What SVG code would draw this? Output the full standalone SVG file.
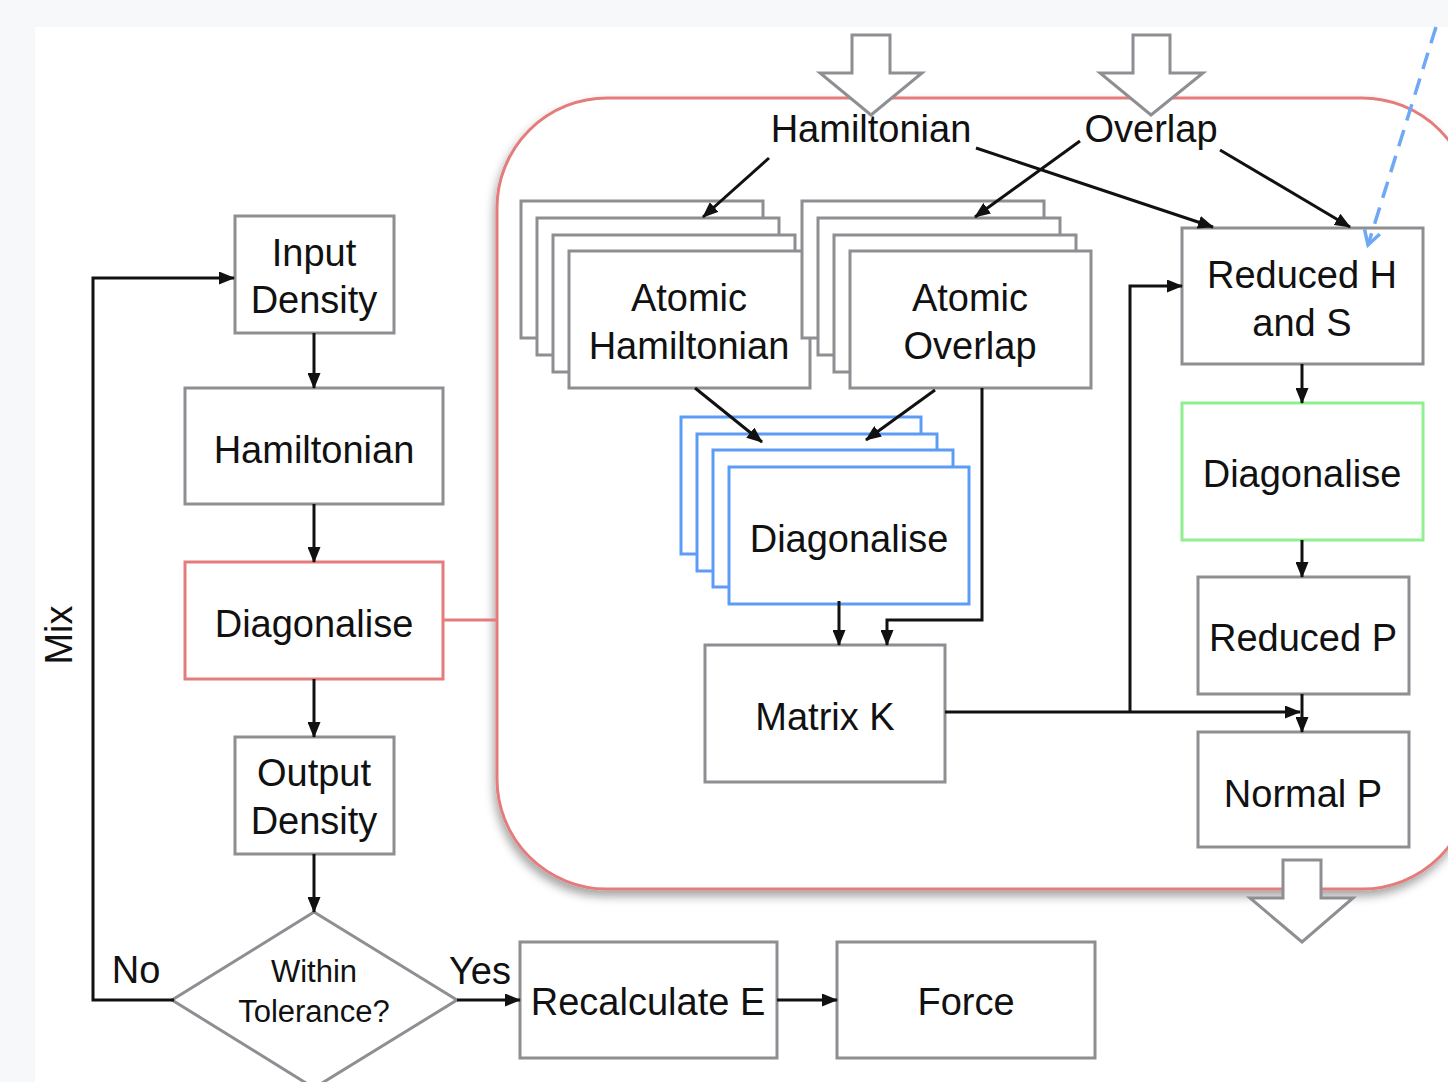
<svg xmlns="http://www.w3.org/2000/svg" width="1448" height="1082" viewBox="0 0 1448 1082">
<defs>
<style>
.box{fill:#fff;stroke:#8e8e93;stroke-width:3}
.blue{fill:#fff;stroke:#5c9cf6;stroke-width:3}
.green{fill:#fff;stroke:#90ef90;stroke-width:3}
.redb{fill:#fff;stroke:#e57c7c;stroke-width:3}
.big{fill:#fff;stroke:#8e8e93;stroke-width:3;stroke-linejoin:miter}
.ln{fill:none;stroke:#e57c7c;stroke-width:3}
.arr{fill:none;stroke:#111;stroke-width:3;marker-end:url(#ah)}
.t{font-family:"Liberation Sans",Arial,Helvetica,sans-serif;font-size:38px;fill:#111;text-anchor:middle}
.s{font-size:31px}
</style>
<marker id="ah" viewBox="0 0 16 13" refX="15" refY="6.5" markerWidth="16" markerHeight="13" markerUnits="userSpaceOnUse" orient="auto">
<path d="M0,0 L16,6.5 L0,13 z" fill="#111"/>
</marker>
<marker id="open" viewBox="0 0 20 20" refX="17" refY="10" markerWidth="20" markerHeight="20" markerUnits="userSpaceOnUse" orient="auto">
<path d="M3,2 L17,10 L3,18" fill="none" stroke="#6fa8f5" stroke-width="3.5"/>
</marker>
<filter id="sh" x="-10%" y="-10%" width="120%" height="120%">
<feDropShadow dx="-2" dy="6" stdDeviation="5" flood-color="#000" flood-opacity="0.35"/>
</filter>
</defs>

<rect x="0" y="0" width="1448" height="1082" fill="#f6f8fa"/>
<rect x="35" y="27" width="1413" height="1055" fill="#fff"/>

<g id="container">
<rect x="497" y="98" width="975" height="791" rx="110" ry="110" fill="#fff" stroke="#e57c7c" stroke-width="3" filter="url(#sh)"/>
</g>

<g id="input-arrows">
<path class="big" d="M852,35 H890 V73 H922 L871,115 L820,73 H852 Z"/>
<path class="big" d="M1133,35 H1170 V73 H1203 L1151,115 L1100,73 H1133 Z"/>
<path class="big" d="M1283,860 H1321 V898 H1353 L1302,942 L1250,898 H1283 Z"/>
</g>

<g id="label-hamiltonian"><text class="t" x="871" y="142">Hamiltonian</text></g>
<g id="label-overlap"><text class="t" x="1151" y="142">Overlap</text></g>

<g id="input-density">
<rect class="box" x="235" y="216" width="159" height="117"/>
<text class="t" x="314" y="266">Input</text>
<text class="t" x="314" y="313">Density</text>
</g>
<g id="hamiltonian">
<rect class="box" x="185" y="388" width="258" height="116"/>
<text class="t" x="314" y="463">Hamiltonian</text>
</g>
<g id="diagonalise-main">
<rect class="redb" x="185" y="562" width="258" height="117"/>
<text class="t" x="314" y="637">Diagonalise</text>
</g>
<g id="output-density">
<rect class="box" x="235" y="737" width="159" height="117"/>
<text class="t" x="314" y="786">Output</text>
<text class="t" x="314" y="834">Density</text>
</g>
<g id="tolerance">
<polygon class="box" points="314,912 457,1000 314,1088 172,1000"/>
<text class="t s" x="314" y="982">Within</text>
<text class="t s" x="314" y="1022">Tolerance?</text>
</g>
<g id="recalculate">
<rect class="box" x="520" y="942" width="257" height="116"/>
<text class="t" x="648" y="1015">Recalculate E</text>
</g>
<g id="force">
<rect class="box" x="837" y="942" width="258" height="116"/>
<text class="t" x="966" y="1015">Force</text>
</g>
<g id="labels">
<text class="t" x="136" y="983">No</text>
<text class="t" x="480" y="984">Yes</text>
<text class="t" transform="translate(72,635) rotate(-90)" x="0" y="0">Mix</text>
</g>

<g id="atomic-hamiltonian">
<rect class="box" x="521" y="201" width="242" height="137"/>
<rect class="box" x="537" y="218" width="242" height="137"/>
<rect class="box" x="553" y="235" width="242" height="137"/>
<rect class="box" x="569" y="251" width="241" height="137"/>
<text class="t" x="689" y="311">Atomic</text>
<text class="t" x="689" y="359">Hamiltonian</text>
</g>
<g id="atomic-overlap">
<rect class="box" x="802" y="201" width="242" height="137"/>
<rect class="box" x="818" y="218" width="242" height="137"/>
<rect class="box" x="834" y="235" width="242" height="137"/>
<rect class="box" x="850" y="251" width="241" height="137"/>
<text class="t" x="970" y="311">Atomic</text>
<text class="t" x="970" y="359">Overlap</text>
</g>
<g id="diagonalise-atomic">
<rect class="blue" x="681" y="417" width="240" height="137"/>
<rect class="blue" x="697" y="434" width="240" height="137"/>
<rect class="blue" x="713" y="450" width="240" height="137"/>
<rect class="blue" x="729" y="467" width="240" height="137"/>
<text class="t" x="849" y="552">Diagonalise</text>
</g>
<g id="matrix-k">
<rect class="box" x="705" y="645" width="240" height="137"/>
<text class="t" x="825" y="730">Matrix K</text>
</g>
<g id="reduced-hs">
<rect class="box" x="1182" y="228" width="241" height="136"/>
<text class="t" x="1302" y="288">Reduced H</text>
<text class="t" x="1302" y="336">and S</text>
</g>
<g id="diagonalise-reduced">
<rect class="green" x="1182" y="403" width="241" height="137"/>
<text class="t" x="1302" y="487">Diagonalise</text>
</g>
<g id="reduced-p">
<rect class="box" x="1198" y="577" width="211" height="117"/>
<text class="t" x="1303" y="651">Reduced P</text>
</g>
<g id="normal-p">
<rect class="box" x="1198" y="732" width="211" height="115"/>
<text class="t" x="1303" y="807">Normal P</text>
</g>

<g id="connectors">
<line class="ln" x1="443" y1="620" x2="497" y2="620"/>
<line class="arr" x1="314" y1="333" x2="314" y2="388"/>
<line class="arr" x1="314" y1="504" x2="314" y2="562"/>
<line class="arr" x1="314" y1="679" x2="314" y2="737"/>
<line class="arr" x1="314" y1="854" x2="314" y2="912"/>
<polyline class="arr" points="174,1000 93,1000 93,278 234,278"/>
<line class="arr" x1="457" y1="1000" x2="520" y2="1000"/>
<line class="arr" x1="777" y1="1000" x2="837" y2="1000"/>

<line class="arr" x1="769" y1="158" x2="703" y2="217"/>
<line class="arr" x1="976" y1="148" x2="1213" y2="227"/>
<line class="arr" x1="1080" y1="141" x2="975" y2="217"/>
<line class="arr" x1="1220" y1="150" x2="1350" y2="227"/>
<line class="arr" x1="695" y1="388" x2="762" y2="442"/>
<line class="arr" x1="935" y1="390" x2="866" y2="440"/>
<line class="arr" x1="839" y1="601" x2="839" y2="645"/>
<polyline class="arr" points="982,388 982,620 887,620 887,645"/>
<line class="arr" x1="945" y1="712" x2="1300" y2="712"/>
<polyline class="arr" points="1130,712 1130,286 1182,286"/>
<line class="arr" x1="1302" y1="364" x2="1302" y2="403"/>
<line class="arr" x1="1302" y1="540" x2="1302" y2="577"/>
<line class="arr" x1="1302" y1="694" x2="1302" y2="732"/>
<line x1="1436" y1="27" x2="1368" y2="245" stroke="#6fa8f5" stroke-width="3.5" stroke-dasharray="17,10" marker-end="url(#open)"/>
</g>
</svg>
